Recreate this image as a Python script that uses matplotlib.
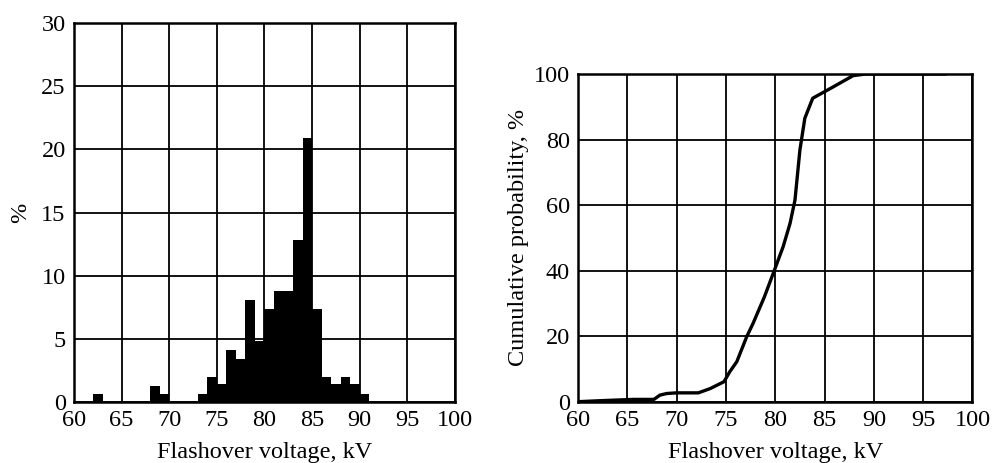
import numpy as np
import matplotlib
matplotlib.use("Agg")
import matplotlib.pyplot as plt

plt.rcParams['font.family'] = ['Liberation Serif', 'DejaVu Serif']

# histogram of flashover voltage, 1 kV classes (left edge, %)
bin_left = [62, 68, 69, 73, 74, 75, 76, 77, 78, 79, 80, 81, 82, 83, 84, 85, 86, 87, 88, 89, 90]
bin_pct = [0.6, 1.3, 0.65, 0.65, 2.0, 1.4, 4.1, 3.4, 8.1, 4.8, 7.4, 8.8, 8.8, 12.8, 20.9, 7.4,
           2.0, 1.4, 2.0, 1.4, 0.65]

# cumulative probability curve
cum_kv = [60, 62.2, 65.6, 67.7, 68.3, 69.0, 70.0, 72.2, 73.4, 74.8, 75.4, 76.1, 77.1, 77.75,
          78.9, 79.8, 80.8, 81.5, 82.0, 82.5, 83.0, 83.8, 84.7, 85.9, 87.9, 89.2, 97.2]
cum_pct = [0, 0.3, 0.7, 0.7, 2.0, 2.5, 2.7, 2.7, 4.0, 6.1, 9.2, 12.2, 19.8, 23.9,
           32.0, 39.2, 47.3, 54.4, 61.5, 76.8, 86.5, 92.6, 94.1, 96.1, 99.5, 100, 100]

x_ticks = np.arange(60, 101, 5)
fs = 17.5

fig = plt.figure(figsize=(9.92, 4.63), dpi=100)
ax1 = fig.add_axes([0.0746, 0.1317, 0.384, 0.8186])
ax2 = fig.add_axes([0.5827, 0.1324, 0.3976, 0.7078])


def style(ax, yticks):
    ax.set_xlim(60, 100)
    ax.set_xticks(x_ticks)
    ax.set_yticks(yticks)
    ax.set_ylim(yticks[0], yticks[-1])
    ax.grid(True, color='black', linewidth=1.3)
    ax.set_axisbelow(True)
    ax.tick_params(length=0, labelsize=fs, colors='black')
    ax.tick_params(axis='x', pad=6)
    ax.tick_params(axis='y', pad=6)
    for s in ax.spines.values():
        s.set_linewidth(1.8)
        s.set_color('black')
    ax.set_xlabel('Flashover voltage, kV', fontsize=fs, labelpad=8)


ax1.bar(bin_left, bin_pct, width=1.0, align='edge', color='black', linewidth=0, zorder=3)
style(ax1, np.arange(0, 31, 5))
ax1.set_ylabel('%', fontsize=fs, labelpad=7)

ax2.plot(cum_kv, cum_pct, color='black', linewidth=2.4, zorder=3)
style(ax2, np.arange(0, 101, 20))
ax2.set_ylabel('Cumulative probability, %', fontsize=fs, labelpad=3)

fig.savefig('out.png', dpi=100)
